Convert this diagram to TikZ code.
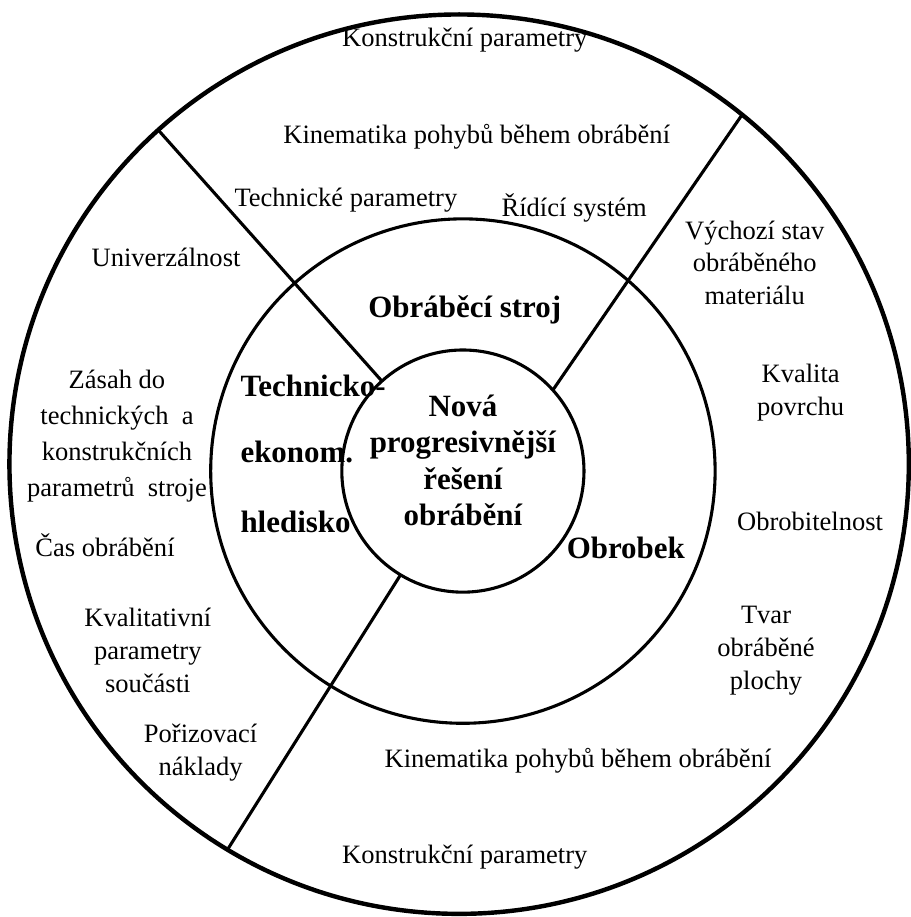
\documentclass[tikz,border=0pt]{standalone}
\usepackage{fontspec}
\setmainfont{Liberation Serif}

\begin{document}
\begin{tikzpicture}[ring/.style={circle, draw, inner sep=0pt, outer sep=0pt, line width=1.4pt},
                item/.style={align=center, font=\fontsize{12}{14.9}\selectfont},
                part/.style={align=center, font=\bfseries\fontsize{14}{16.5}\selectfont}]

    \useasboundingbox (-7.36,-7.09) rectangle (7.11,7.49);

    % three rings
    \node[ring, line width=2pt, minimum size=14.3cm] (O) at (-0.06,0.11) {};
    \node[ring, minimum size=8.02cm] (M) at (0,0) {};
    \node[ring, minimum size=3.85cm] (I) at (0,0) {};

    % dividers between the sectors
    \draw[line width=1.4pt] (I.132) -- (O.132)
                            (I.42) -- (O.51)
                            (I.239) -- (O.239);

    % centre and the three sectors
    \node[part] (nova) at (0,0.17) {Nová\\progresivnější\\řešení\\obrábění};
    \node[part] (stroj) at (0.03,2.56) {Obráběcí stroj};
    \node[part] (obrobek) at (2.59,-1.22) {Obrobek};
    \node[part, anchor=west] (te1) at (-3.66,1.35) {Technicko-};
    \node[part, anchor=west] (te2) at (-3.66,0.30) {ekonom.};
    \node[part, anchor=west] (te3) at (-3.66,-0.81) {hledisko};

    % outer ring, top
    \node[item] (kp1) at (0.03,6.85) {Konstrukční parametry};
    \node[item] (kin1) at (0.22,5.31) {Kinematika pohybů během obrábění};
    \node[item] (tp) at (-1.86,4.31) {Technické parametry};
    \node[item] (rs) at (1.77,4.18) {Řídící systém};

    % outer ring, right
    \node[item] (vs) at (4.64,3.31) {Výchozí stav\\obráběného\\materiálu};
    \node[item] (kv) at (5.37,1.24) {Kvalita\\povrchu};
    \node[item] (ob) at (5.52,-0.80) {Obrobitelnost};
    \node[item] (tv) at (4.82,-2.85) {Tvar\\obráběné\\plochy};
    \node[item] (kin2) at (1.83,-4.60) {Kinematika pohybů během obrábění};
    \node[item] (kp2) at (0.03,-6.14) {Konstrukční parametry};

    % outer ring, left
    \node[item] (un) at (-4.72,3.40) {Univerzálnost};
    \node[item, font=\fontsize{12}{16.3}\selectfont] (za) at (-5.50,0.56)
        {Zásah do\\technických\ \ a\\konstrukčních\\parametrů\ \ stroje};
    \node[item] (cas) at (-5.69,-1.18) {Čas obrábění};
    \node[item] (kq) at (-5.01,-2.85) {Kvalitativní\\parametry\\součásti};
    \node[item] (pn) at (-4.17,-4.48) {Pořizovací\\náklady};

\end{tikzpicture}
\end{document}
